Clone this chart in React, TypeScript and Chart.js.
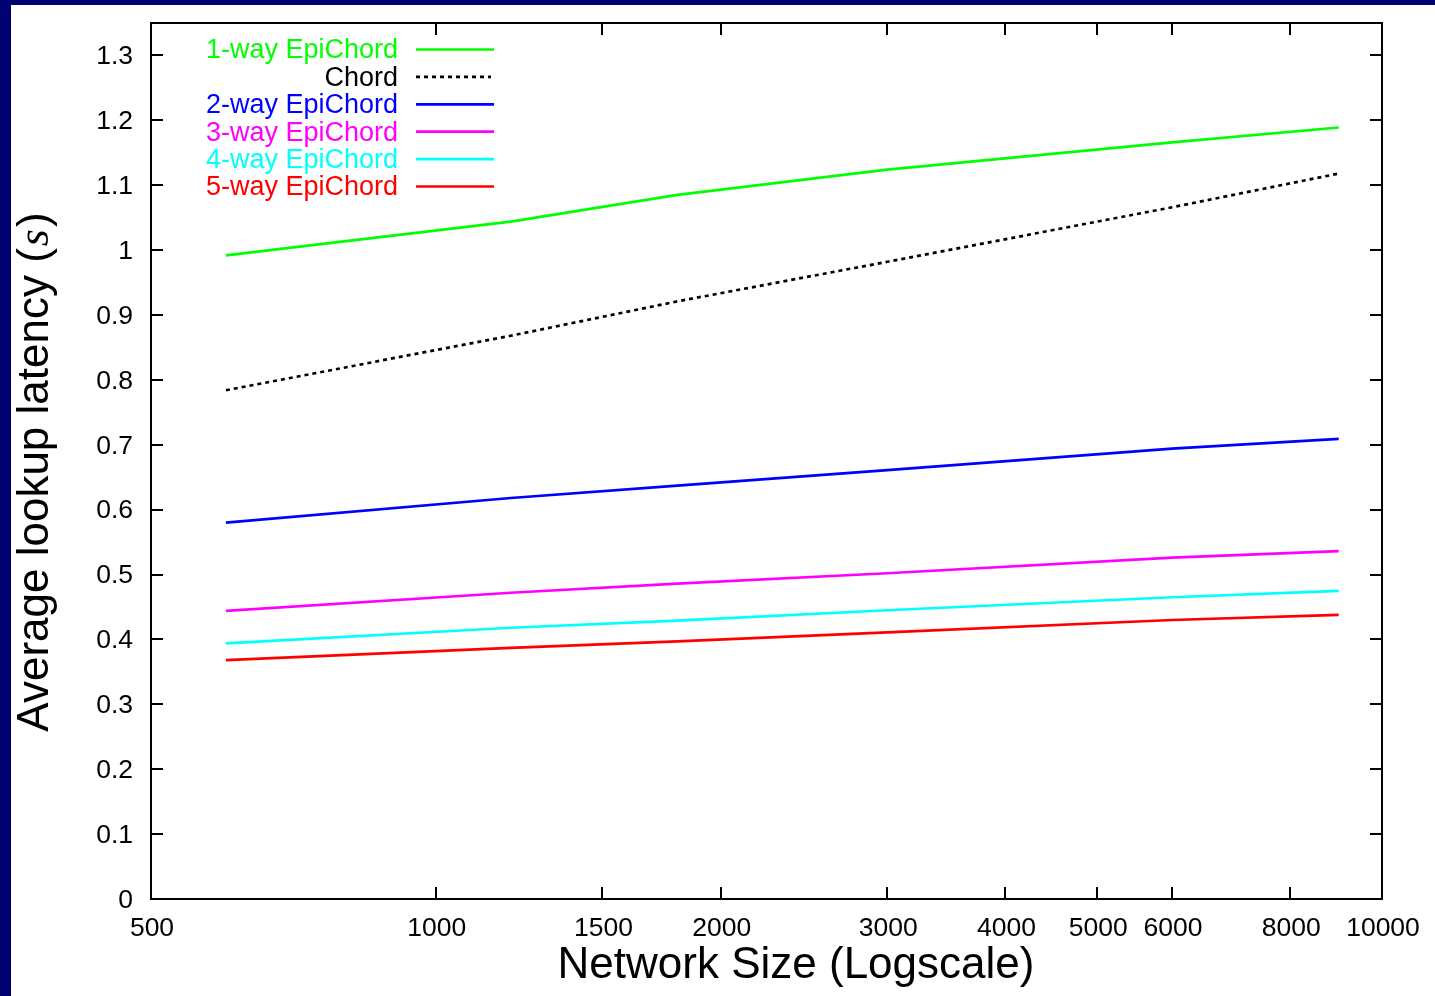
import React, { useEffect, useRef } from "react";
import { Chart, registerables } from "chart.js";

Chart.register(...registerables);

// ---- data ----
const networkSizes = [600, 1200, 1800, 3000, 6000, 9000];
const seriesNames = [
  "1-way EpiChord",
  "Chord",
  "2-way EpiChord",
  "3-way EpiChord",
  "4-way EpiChord",
  "5-way EpiChord",
];
const oneWayEpiChord = [0.992, 1.044, 1.085, 1.124, 1.166, 1.189];
const chord = [0.784, 0.868, 0.921, 0.982, 1.066, 1.118];
const twoWayEpiChord = [0.58, 0.618, 0.637, 0.661, 0.694, 0.709];
const threeWayEpiChord = [0.444, 0.472, 0.486, 0.502, 0.526, 0.536];
const fourWayEpiChord = [0.394, 0.418, 0.429, 0.445, 0.465, 0.475];
const fiveWayEpiChord = [0.368, 0.387, 0.397, 0.411, 0.43, 0.438];
const seriesColors = ["#00ff00", "#000000", "#0000ff", "#ff00ff", "#00ffff", "#ff0000"];

const xTickValues = [500, 1000, 1500, 2000, 3000, 4000, 5000, 6000, 8000, 10000];
const xTickLabels = ["500", "1000", "1500", "2000", "3000", "4000", "5000", "6000", "8000", "10000"];
const yTickValues = [0, 0.1, 0.2, 0.3, 0.4, 0.5, 0.6, 0.7, 0.8, 0.9, 1, 1.1, 1.2, 1.3];
const yTickLabels = ["0", "0.1", "0.2", "0.3", "0.4", "0.5", "0.6", "0.7", "0.8", "0.9", "1", "1.1", "1.2", "1.3"];

const xTitle = "Network Size (Logscale)";
const yTitleMain = "Average lookup latency (";
const yTitleVar = "s";
const yTitleEnd = ")";

const NAVY = "#000070";
const SANS = "'Liberation Sans', Arial, Helvetica, sans-serif";
const SERIF = "'Liberation Serif', 'Times New Roman', serif";

const allSeries = [oneWayEpiChord, chord, twoWayEpiChord, threeWayEpiChord, fourWayEpiChord, fiveWayEpiChord];

const gnuplotPlugin = {
  id: "gnuplotFrame",
  beforeDraw(chart: any) {
    const ctx = chart.ctx;
    ctx.save();
    ctx.fillStyle = NAVY;
    ctx.fillRect(0, 0, chart.width, chart.height);
    ctx.fillStyle = "#ffffff";
    ctx.fillRect(11, 5, chart.width - 11, chart.height - 5);
    ctx.restore();
  },
  afterDraw(chart: any) {
    const ctx = chart.ctx;
    const a = chart.chartArea;
    const xs = chart.scales.x;
    const ys = chart.scales.y;
    ctx.save();

    // ticks (inward, mirrored)
    ctx.strokeStyle = "#000";
    ctx.lineWidth = 2;
    ctx.beginPath();
    yTickValues.forEach((v) => {
      const py = Math.round(ys.getPixelForValue(v));
      ctx.moveTo(a.left, py);
      ctx.lineTo(a.left + 12, py);
      ctx.moveTo(a.right, py);
      ctx.lineTo(a.right - 12, py);
    });
    xTickValues.forEach((v) => {
      const px = Math.round(xs.getPixelForValue(v));
      ctx.moveTo(px, a.bottom);
      ctx.lineTo(px, a.bottom - 12);
      ctx.moveTo(px, a.top);
      ctx.lineTo(px, a.top + 12);
    });
    ctx.stroke();
    ctx.strokeRect(a.left, a.top, a.right - a.left, a.bottom - a.top);

    // tick labels
    ctx.fillStyle = "#000";
    ctx.font = `26.5px ${SANS}`;
    ctx.textBaseline = "middle";
    ctx.textAlign = "right";
    yTickValues.forEach((v, i) => {
      ctx.fillText(yTickLabels[i], a.left - 18, ys.getPixelForValue(v) + 1.5);
    });
    ctx.textAlign = "center";
    xTickValues.forEach((v, i) => {
      ctx.fillText(xTickLabels[i], xs.getPixelForValue(v) + 1, a.bottom + 30);
    });

    // x title
    ctx.font = `44px ${SANS}`;
    ctx.textAlign = "center";
    ctx.fillText(xTitle, 796, 966);

    // y title (rotated)
    ctx.save();
    ctx.translate(36, 472);
    ctx.rotate(-Math.PI / 2);
    ctx.textAlign = "left";
    ctx.font = `44px ${SANS}`;
    const w1 = ctx.measureText(yTitleMain).width;
    const w3 = ctx.measureText(yTitleEnd).width;
    ctx.font = `italic 44px ${SERIF}`;
    const w2 = ctx.measureText(yTitleVar).width;
    let cx = -(w1 + w2 + w3 + 4) / 2;
    ctx.font = `44px ${SANS}`;
    ctx.fillText(yTitleMain, cx, 0);
    cx += w1 + 2;
    ctx.font = `italic 44px ${SERIF}`;
    ctx.fillText(yTitleVar, cx, 0);
    cx += w2 + 2;
    ctx.font = `44px ${SANS}`;
    ctx.fillText(yTitleEnd, cx, 0);
    ctx.restore();

    // legend
    ctx.font = `27px ${SANS}`;
    ctx.textAlign = "right";
    chart.data.datasets.forEach((ds: any, i: number) => {
      const ry = 49.5 + i * 27.4;
      ctx.fillStyle = ds.borderColor;
      ctx.fillText(ds.label, 398, ry + 1.5);
      ctx.beginPath();
      ctx.strokeStyle = ds.borderColor;
      ctx.lineWidth = ds.borderWidth;
      ctx.setLineDash(ds.borderDash || []);
      ctx.moveTo(416, ry);
      ctx.lineTo(ds.borderDash ? 491 : 494, ry);
      ctx.stroke();
      ctx.setLineDash([]);
    });

    ctx.restore();
  },
};

export default function App() {
  const canvasRef = useRef<HTMLCanvasElement | null>(null);

  useEffect(() => {
    const canvas = canvasRef.current;
    if (!canvas) return;
    const datasets = allSeries.map((values, i) => {
      const ds: any = {
        label: seriesNames[i],
        data: networkSizes.map((n, j) => ({ x: n, y: values[j] })),
        borderColor: seriesColors[i],
        backgroundColor: seriesColors[i],
        borderWidth: 2.7,
        pointRadius: 0,
        tension: 0,
        fill: false,
        borderCapStyle: "butt",
      };
      if (seriesNames[i] === "Chord") ds.borderDash = [4, 4];
      return ds;
    });

    const chart = new Chart(canvas, {
      type: "line",
      data: { datasets },
      options: {
        animation: false,
        responsive: false,
        devicePixelRatio: 1,
        layout: { padding: { top: 23, right: 53, bottom: 0, left: 0 } },
        plugins: {
          legend: { display: false },
          tooltip: { enabled: false },
          title: { display: false },
        },
        scales: {
          x: {
            type: "logarithmic",
            min: 500,
            max: 10000,
            ticks: { display: false },
            grid: { display: false },
            border: { display: false },
            afterFit: (s: any) => {
              s.height = 97;
            },
          },
          y: {
            type: "linear",
            min: 0,
            max: 1.35,
            ticks: { display: false },
            grid: { display: false },
            border: { display: false },
            afterFit: (s: any) => {
              s.width = 151;
            },
          },
        },
      } as any,
      plugins: [gnuplotPlugin],
    });
    return () => chart.destroy();
  }, []);

  return (
    <div style={{ position: "fixed", left: 0, top: 0, width: 1435, height: 996, overflow: "hidden" }}>
      <canvas ref={canvasRef} width={1435} height={996} style={{ display: "block", width: 1435, height: 996 }} />
    </div>
  );
}
